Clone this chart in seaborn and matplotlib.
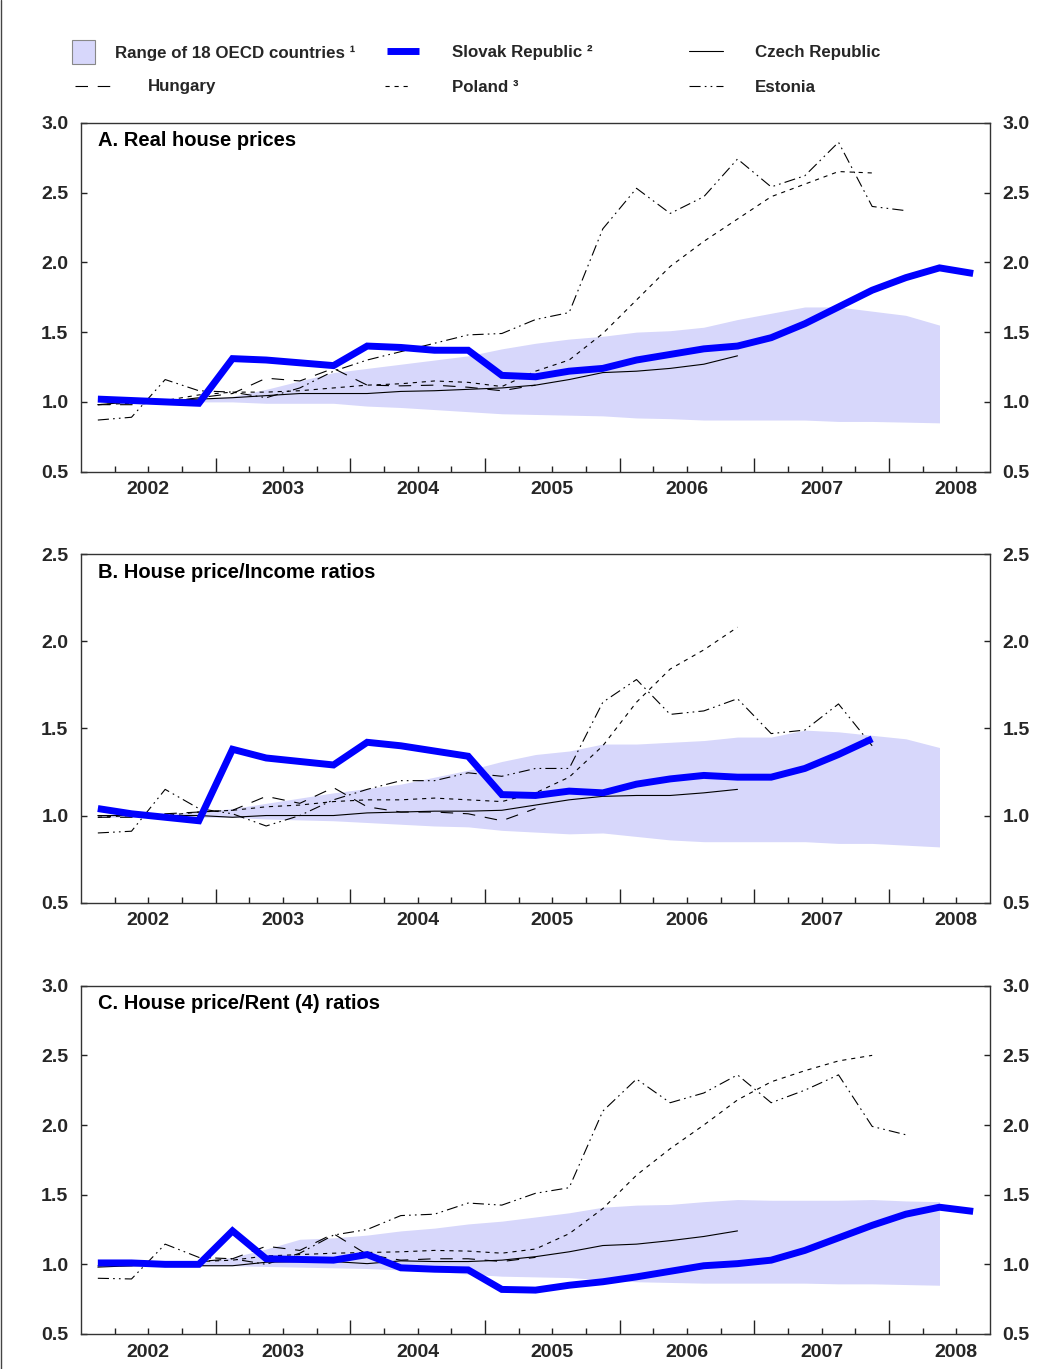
import numpy as np
import matplotlib
matplotlib.use("Agg")
import matplotlib.pyplot as plt
import seaborn as sns
from matplotlib.lines import Line2D
from matplotlib.patches import Patch

# ---------------- data (quarterly, 2002Q1 = index 0) ----------------
years = ["2002", "2003", "2004", "2005", "2006", "2007", "2008"]

# Panel A: real house prices
a_range_low = [1.00, 0.99, 1.00, 1.00, 1.00, 0.99, 0.99, 0.99, 0.97, 0.96, 0.945, 0.93, 0.915,
               0.91, 0.905, 0.90, 0.885, 0.88, 0.87, 0.87, 0.87, 0.87, 0.86, 0.86, 0.855, 0.85]
a_range_high = [1.00, 1.00, 1.01, 1.02, 1.04, 1.09, 1.15, 1.21, 1.24, 1.27, 1.30, 1.33, 1.38,
                1.42, 1.45, 1.47, 1.50, 1.51, 1.535, 1.59, 1.635, 1.68, 1.68, 1.65, 1.62, 1.55]
a_slovak = [1.02, 1.01, 1.00, 0.99, 1.31, 1.30, 1.28, 1.26, 1.40, 1.39, 1.37, 1.37, 1.19, 1.18,
            1.22, 1.24, 1.30, 1.34, 1.38, 1.40, 1.46, 1.56, 1.68, 1.80, 1.89, 1.96, 1.92]
a_czech = [0.98, 1.00, 1.01, 1.02, 1.03, 1.045, 1.06, 1.06, 1.06, 1.075, 1.08, 1.09, 1.10, 1.12,
           1.16, 1.21, 1.22, 1.24, 1.27, 1.33]
a_hungary = [0.98, 0.98, 1.00, 1.03, 1.06, 1.17, 1.15, 1.24, 1.12, 1.115, 1.12, 1.105, 1.08, 1.12]
a_poland = [0.98, 0.99, 1.01, 1.05, 1.07, 1.07, 1.08, 1.10, 1.12, 1.13, 1.15, 1.14, 1.11, 1.22,
            1.30, 1.49, 1.73, 1.97, 2.15, 2.31, 2.47, 2.56, 2.65, 2.64]
a_estonia = [0.87, 0.89, 1.16, 1.08, 1.07, 1.03, 1.10, 1.22, 1.30, 1.36, 1.42, 1.48, 1.49, 1.59,
             1.64, 2.24, 2.53, 2.35, 2.47, 2.74, 2.54, 2.62, 2.86, 2.40, 2.37]

# Panel B: house price / income ratios
b_range_low = [0.99, 0.99, 0.99, 0.99, 0.99, 0.98, 0.975, 0.97, 0.96, 0.95, 0.94, 0.935, 0.915,
               0.905, 0.895, 0.90, 0.88, 0.86, 0.85, 0.85, 0.85, 0.85, 0.84, 0.84, 0.83, 0.82]
b_range_high = [1.00, 1.00, 1.01, 1.02, 1.04, 1.07, 1.10, 1.13, 1.155, 1.18, 1.22, 1.26, 1.31,
                1.35, 1.37, 1.41, 1.41, 1.42, 1.43, 1.45, 1.45, 1.49, 1.48, 1.46, 1.44, 1.39]
b_slovak = [1.04, 1.01, 0.99, 0.97, 1.38, 1.33, 1.31, 1.29, 1.42, 1.40, 1.37, 1.34, 1.12, 1.115,
            1.14, 1.13, 1.18, 1.21, 1.23, 1.22, 1.22, 1.27, 1.35, 1.44]
b_czech = [1.00, 1.00, 1.00, 1.00, 0.99, 1.00, 1.00, 1.00, 1.015, 1.02, 1.025, 1.025, 1.03, 1.06,
           1.09, 1.11, 1.115, 1.115, 1.13, 1.15]
b_hungary = [0.99, 0.99, 1.01, 1.02, 1.03, 1.11, 1.07, 1.16, 1.05, 1.02, 1.02, 1.01, 0.97, 1.04]
b_poland = [0.99, 1.00, 1.00, 1.02, 1.03, 1.05, 1.06, 1.08, 1.09, 1.09, 1.10, 1.09, 1.08, 1.13,
            1.22, 1.40, 1.65, 1.84, 1.95, 2.08]
b_estonia = [0.90, 0.91, 1.15, 1.04, 1.01, 0.94, 1.00, 1.09, 1.15, 1.20, 1.20, 1.245, 1.225,
             1.27, 1.27, 1.65, 1.78, 1.58, 1.60, 1.67, 1.47, 1.49, 1.64, 1.40]

# Panel C: house price / rent ratios
c_range_low = [1.00, 0.99, 0.99, 0.99, 0.99, 0.985, 0.98, 0.975, 0.97, 0.96, 0.95, 0.93, 0.915,
               0.91, 0.905, 0.89, 0.875, 0.87, 0.865, 0.865, 0.865, 0.865, 0.86, 0.86, 0.855, 0.85]
c_range_high = [1.00, 1.00, 1.01, 1.02, 1.05, 1.11, 1.18, 1.19, 1.21, 1.24, 1.26, 1.29, 1.31,
                1.34, 1.37, 1.41, 1.425, 1.43, 1.45, 1.465, 1.46, 1.46, 1.46, 1.465, 1.455, 1.45]
c_slovak = [1.01, 1.01, 1.00, 1.00, 1.24, 1.04, 1.035, 1.03, 1.07, 0.975, 0.965, 0.96, 0.82, 0.815,
            0.85, 0.875, 0.91, 0.95, 0.99, 1.005, 1.03, 1.10, 1.19, 1.28, 1.36, 1.41, 1.38]
c_czech = [0.98, 0.99, 0.995, 0.99, 0.99, 1.015, 1.02, 1.02, 1.005, 1.025, 1.02, 1.02, 1.03, 1.055,
           1.09, 1.135, 1.145, 1.17, 1.20, 1.24]
c_hungary = [0.99, 0.99, 1.00, 1.02, 1.04, 1.13, 1.10, 1.22, 1.07, 1.03, 1.04, 1.04, 1.02, 1.05]
c_poland = [0.99, 1.00, 1.00, 1.02, 1.03, 1.06, 1.07, 1.08, 1.085, 1.09, 1.10, 1.095, 1.08, 1.11,
            1.22, 1.40, 1.64, 1.83, 2.00, 2.18, 2.31, 2.39, 2.46, 2.50]
c_estonia = [0.90, 0.895, 1.145, 1.05, 1.04, 1.00, 1.08, 1.21, 1.25, 1.35, 1.36, 1.44, 1.425,
             1.51, 1.55, 2.10, 2.33, 2.16, 2.23, 2.36, 2.16, 2.25, 2.36, 1.99, 1.93]

panel_titles = ["A. Real house prices", "B. House price/Income ratios",
                "C. House price/Rent (4) ratios"]
legend_labels = ["Range of 18 OECD countries \u00b9", "Slovak Republic \u00b2", "Czech Republic",
                 "Hungary", "Poland \u00b3", "Estonia"]

# ---------------- style ----------------
sns.set_theme(style="white")
plt.rcParams["font.family"] = ["Liberation Sans", "DejaVu Sans"]
plt.rcParams["font.weight"] = "bold"
plt.rcParams["lines.scale_dashes"] = False

BLUE = "#0000ff"
BAND = "#d7d7fb"
INK = "#000000"
LS_HUN = (0, (9, 7))
LS_POL = (0, (3, 3.5))
LS_EST = (0, (8, 3, 1.2, 3, 1.2, 3))
THIN = 0.8

W, H = 1055, 1369
fig = plt.figure(figsize=(W / 100, H / 100), dpi=100)
fig.patch.set_facecolor("white")


def axes_rect(top_px, bottom_px, left_px=81, right_px=990):
    return [left_px / W, 1 - bottom_px / H, (right_px - left_px) / W, (bottom_px - top_px) / H]


panels = [
    (axes_rect(122.7, 471.7), (0.5, 3.0), a_range_low, a_range_high, a_slovak, a_czech,
     a_hungary, a_poland, a_estonia),
    (axes_rect(554.0, 902.7), (0.5, 2.5), b_range_low, b_range_high, b_slovak, b_czech,
     b_hungary, b_poland, b_estonia),
    (axes_rect(985.7, 1334.0), (0.5, 3.0), c_range_low, c_range_high, c_slovak, c_czech,
     c_hungary, c_poland, c_estonia),
]

for k, (rect, ylim, lo, hi, sk, cz, hu, pl, ee) in enumerate(panels):
    ax = fig.add_axes(rect)
    xr = np.arange(len(lo)) + 0.5
    ax.fill_between(xr, lo, hi, color=BAND, lw=0, zorder=1)

    for vals, ls in [(cz, "-"), (hu, LS_HUN), (pl, LS_POL), (ee, LS_EST)]:
        xv = np.arange(len(vals)) + 0.5
        sns.lineplot(x=xv, y=vals, ax=ax, color=INK, linewidth=THIN, linestyle=ls,
                     estimator=None, sort=False, zorder=3)
    xs = np.arange(len(sk)) + 0.5
    sns.lineplot(x=xs, y=sk, ax=ax, color=BLUE, linewidth=5.0, estimator=None,
                 sort=False, zorder=4, solid_joinstyle="miter", solid_capstyle="butt")

    ax.set_xlim(0, 27)
    ax.set_ylim(*ylim)
    ax.set_xlabel("")
    ax.set_ylabel("")
    ax.grid(False)

    # x ticks: year boundaries (major), quarter boundaries (minor), year labels centred
    ax.set_xticks([4, 8, 12, 16, 20, 24])
    ax.set_xticklabels([])
    minor_pos = [q for q in range(1, 27) if q % 4 != 0]
    minor_lab = [years[(q - 2) // 4] if q % 4 == 2 else "" for q in minor_pos]
    ax.set_xticks(minor_pos, minor=True)
    ax.set_xticklabels(minor_lab, minor=True)
    ax.tick_params(axis="x", which="major", direction="in", length=10, width=1.0,
                   color="#222222", bottom=True, top=False)
    ax.tick_params(axis="x", which="minor", direction="in", length=4, width=1.0,
                   color="#222222", bottom=True, top=False, labelsize=14, pad=7)

    yt = np.arange(ylim[0], ylim[1] + 0.01, 0.5)
    ax.set_yticks(yt)
    ax.set_yticklabels([f"{v:.1f}" for v in yt])
    ax.tick_params(axis="y", which="major", direction="in", length=4, width=1.0,
                   color="#222222", left=True, right=True, labelleft=True, labelright=True,
                   labelsize=14, pad=9)

    for side in ["left", "right", "top", "bottom"]:
        ax.spines[side].set_visible(True)
        ax.spines[side].set_color("#333333")
        ax.spines[side].set_linewidth(1.0)

    ax.text(0.019, 0.975, panel_titles[k], transform=ax.transAxes, ha="left", va="top",
            fontsize=14.5, fontweight="bold", color="black")
    if ax.get_legend() is not None:
        ax.get_legend().remove()

# ---------------- legend (six single-entry legends placed like the original) ----------------
FS = 12.2
FSPX = FS * 100 / 72.0
handles = [
    Patch(facecolor=BAND, edgecolor="#888888", linewidth=0.8),
    Line2D([0], [0], color=BLUE, lw=5.0, solid_capstyle="butt"),
    Line2D([0], [0], color=INK, lw=THIN),
    Line2D([0], [0], color=INK, lw=THIN, linestyle=LS_HUN),
    Line2D([0], [0], color=INK, lw=THIN, linestyle=LS_POL),
    Line2D([0], [0], color=INK, lw=THIN, linestyle=LS_EST),
]
# (handle left px, handle right px, text left px, row centre y px)
spots = [(72, 95, 115, 52), (387, 419, 452, 52), (689, 723, 755, 52),
         (75, 112, 148, 87), (385, 412, 452, 87), (689, 723, 755, 87)]
for i, (h, lab, (hx0, hx1, tx, yc)) in enumerate(zip(handles, legend_labels, spots)):
    kw = {}
    if i == 0:
        kw["handleheight"] = 29 / FSPX
    fig.legend([h], [lab], loc="center left", bbox_to_anchor=(hx0 / W, 1 - yc / H),
               frameon=False, borderpad=0, borderaxespad=0,
               handlelength=(hx1 - hx0) / FSPX, handletextpad=(tx - hx1) / FSPX,
               prop={"weight": "bold", "size": FS}, **kw)

# thin frame line at the left edge of the figure (as in the original)
fig.add_artist(Line2D([0.5 / W, 0.5 / W], [0, 1], color="#444444", lw=1.0))

fig.savefig("out.png", dpi=100, facecolor="white")
